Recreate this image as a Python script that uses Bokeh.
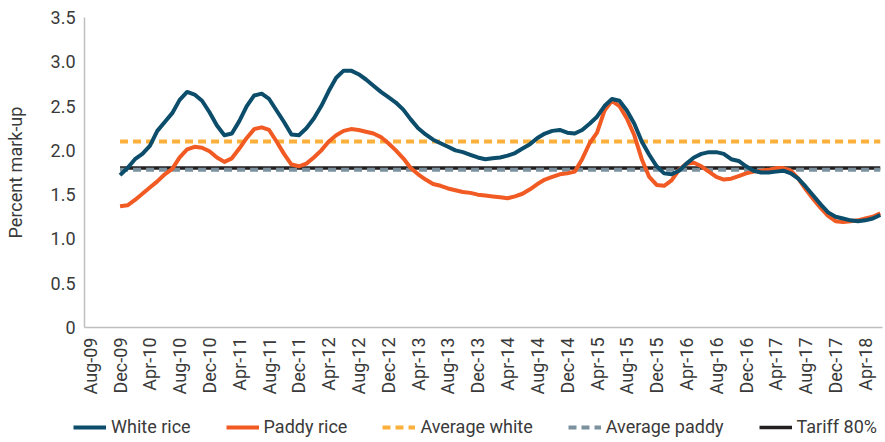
import math
import pandas as pd
from bokeh.plotting import figure
from bokeh.models import Range1d, FixedTicker, Legend, LegendItem
from bokeh.embed import file_html
from bokeh.resources import INLINE

# ---- data -------------------------------------------------------------
start_month = pd.Period("2009-08", freq="M")          # first category on the axis
months = pd.period_range("2009-12", "2018-06", freq="M")

white_rice = [
    1.72, 1.80, 1.90, 1.96, 2.05, 2.22, 2.32, 2.42, 2.57, 2.66,
    2.63, 2.56, 2.43, 2.28, 2.17, 2.19, 2.33, 2.50, 2.62, 2.64,
    2.58, 2.45, 2.32, 2.18, 2.17, 2.25, 2.36, 2.50, 2.67, 2.82,
    2.90, 2.90, 2.86, 2.80, 2.73, 2.66, 2.60, 2.54, 2.46, 2.35,
    2.25, 2.18, 2.12, 2.08, 2.04, 2.00, 1.98, 1.95, 1.92, 1.90,
    1.91, 1.92, 1.94, 1.97, 2.02, 2.07, 2.14, 2.19, 2.22, 2.23,
    2.20, 2.19, 2.23, 2.30, 2.38, 2.50, 2.58, 2.56, 2.45, 2.30,
    2.10, 1.95, 1.82, 1.74, 1.73, 1.77, 1.85, 1.92, 1.96, 1.98,
    1.98, 1.96, 1.90, 1.88, 1.82, 1.77, 1.75, 1.75, 1.76, 1.77,
    1.74, 1.68, 1.59, 1.49, 1.39, 1.30, 1.25, 1.23, 1.21, 1.20,
    1.21, 1.23, 1.27,
]

paddy_rice = [
    1.37, 1.38, 1.44, 1.51, 1.58, 1.65, 1.73, 1.79, 1.92, 2.01,
    2.04, 2.03, 1.99, 1.92, 1.87, 1.91, 2.02, 2.14, 2.24, 2.26,
    2.23, 2.10, 1.96, 1.84, 1.82, 1.85, 1.92, 2.00, 2.10, 2.17,
    2.22, 2.24, 2.23, 2.21, 2.19, 2.15, 2.08, 2.00, 1.91, 1.80,
    1.73, 1.67, 1.62, 1.60, 1.57, 1.55, 1.53, 1.52, 1.50, 1.49,
    1.48, 1.47, 1.46, 1.48, 1.51, 1.56, 1.62, 1.67, 1.70, 1.73,
    1.74, 1.76, 1.90, 2.08, 2.20, 2.45, 2.56, 2.50, 2.36, 2.17,
    1.90, 1.70, 1.61, 1.60, 1.66, 1.78, 1.85, 1.86, 1.82, 1.76,
    1.70, 1.67, 1.68, 1.71, 1.74, 1.76, 1.77, 1.78, 1.80, 1.80,
    1.77, 1.68, 1.56, 1.45, 1.35, 1.26, 1.20, 1.19, 1.20, 1.21,
    1.23, 1.25, 1.29,
]

average_white = 2.10
average_paddy = 1.78
tariff_80 = 1.80

series_names = ["White rice", "Paddy rice", "Average white", "Average paddy", "Tariff 80%"]

x_tick_labels = [
    "Aug-09", "Dec-09", "Apr-10", "Aug-10", "Dec-10", "Apr-11", "Aug-11",
    "Dec-11", "Apr-12", "Aug-12", "Dec-12", "Apr-13", "Aug-13", "Dec-13",
    "Apr-14", "Aug-14", "Dec-14", "Apr-15", "Aug-15", "Dec-15", "Apr-16",
    "Aug-16", "Dec-16", "Apr-17", "Aug-17", "Dec-17", "Apr-18",
]
y_ticks = [0, 0.5, 1.0, 1.5, 2.0, 2.5, 3.0, 3.5]
y_tick_labels = ["0", "0.5", "1.0", "1.5", "2.0", "2.5", "3.0", "3.5"]

# ---- derived positions ------------------------------------------------
x = [(m - start_month).n for m in months]
x_ticks = [(pd.Period(pd.to_datetime(lbl, format="%b-%y"), freq="M") - start_month).n
           for lbl in x_tick_labels]
x_ends = [x[0], x[-1]]
series_xy = [
    (x, white_rice),
    (x, paddy_rice),
    (x_ends, [average_white, average_white]),
    (x_ends, [average_paddy, average_paddy]),
    (x_ends, [tariff_80, tariff_80]),
]

# ---- styles -----------------------------------------------------------
FONT = "Roboto"
TXT = "#3a3a3a"
styles = [
    dict(line_color="#0b4d6b", line_width=4, line_join="round"),
    dict(line_color="#f15a22", line_width=4, line_join="round"),
    dict(line_color="#fbb03b", line_width=4, line_dash="8 5"),
    dict(line_color="#7b929e", line_width=4, line_dash="8 5"),
    dict(line_color="#231f20", line_width=3.5),
]

# ---- main chart -------------------------------------------------------
x_range = Range1d(-0.77, 106.3)
p = figure(
    frame_width=798, frame_height=310,
    x_range=x_range, y_range=Range1d(0, 3.5),
    output_backend="svg", toolbar_location=None,
    min_border_left=84, min_border_right=3, min_border_top=17, min_border_bottom=83,
)
p.outline_line_color = None
p.xgrid.visible = False
p.ygrid.visible = False

# draw reference lines first, then the two series on top
for i in [4, 3, 2, 1, 0]:
    xs, ys = series_xy[i]
    p.line(xs, ys, **styles[i])

xa = p.xaxis[0]
xa.ticker = FixedTicker(ticks=x_ticks)
xa.major_label_overrides = {t: l for t, l in zip(x_ticks, x_tick_labels)}
xa.major_label_orientation = math.pi / 2
xa.major_tick_line_color = None
xa.minor_tick_line_color = None
xa.major_tick_out = 0
xa.major_tick_in = 0
xa.minor_tick_out = 0
xa.axis_line_color = "#bfbfbf"
xa.axis_line_width = 1.5
xa.major_label_text_font = FONT
xa.major_label_text_font_size = "18px"
xa.major_label_text_color = TXT
xa.major_label_standoff = 10

ya = p.yaxis[0]
ya.ticker = FixedTicker(ticks=y_ticks)
ya.major_label_overrides = {t: l for t, l in zip(y_ticks, y_tick_labels)}
ya.major_tick_line_color = None
ya.minor_tick_line_color = None
ya.major_tick_out = 0
ya.major_tick_in = 0
ya.minor_tick_out = 0
ya.axis_line_color = "#bfbfbf"
ya.axis_line_width = 1.5
ya.major_label_text_font = FONT
ya.major_label_text_font_size = "18px"
ya.major_label_text_color = TXT
ya.major_label_standoff = 9
ya.axis_label = "Percent mark-up"
ya.axis_label_text_font = FONT
ya.axis_label_text_font_size = "18px"
ya.axis_label_text_font_style = "normal"
ya.axis_label_text_color = TXT
ya.axis_label_standoff = 22

# ---- legend strip (separate root, the series lie outside its view) ----
q = figure(
    width=885, height=32, x_range=x_range, y_range=Range1d(10, 11),
    output_backend="svg", toolbar_location=None,
    x_axis_location=None, y_axis_location=None, min_border=0,
)
q.outline_line_color = None
q.xgrid.visible = False
q.ygrid.visible = False
legend_renderers = [q.line(xs, ys, **st) for (xs, ys), st in zip(series_xy, styles)]

legend = Legend(
    items=[LegendItem(label=n, renderers=[r]) for n, r in zip(series_names, legend_renderers)],
    orientation="horizontal", location=(73, 5),
    glyph_width=33, glyph_height=18, label_standoff=5, spacing=35,
    label_text_font=FONT, label_text_font_size="18px", label_text_color=TXT,
    padding=0, margin=0, border_line_alpha=0, background_fill_alpha=0,
)
q.add_layout(legend, "center")

open("out.html", "w").write(file_html([p, q], INLINE))
